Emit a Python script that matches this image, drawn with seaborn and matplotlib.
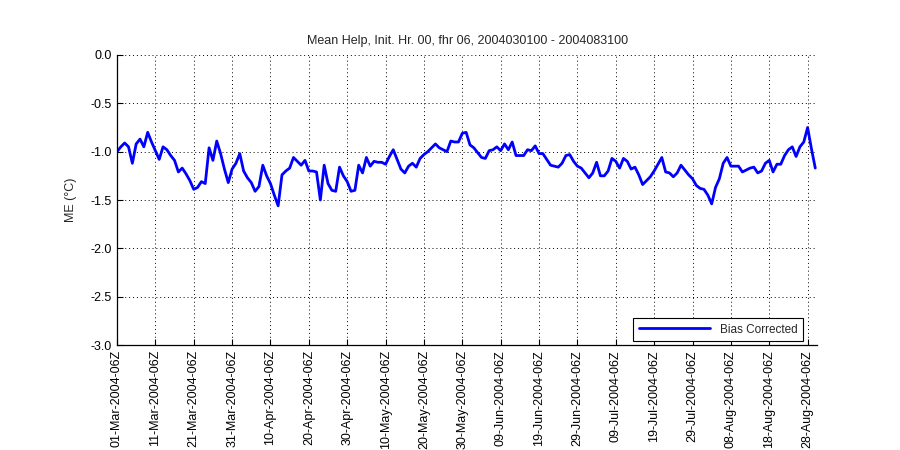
import matplotlib
matplotlib.use("Agg")
import matplotlib.pyplot as plt
import pandas as pd
import seaborn as sns

# Mean error per day, 01-Mar-2004 06Z onward
start = "2004-03-01 06:00"
me_values = [
    -1.00, -0.95, -0.91, -0.95, -1.12, -0.92, -0.87, -0.95, -0.80, -0.90,
    -0.99, -1.08, -0.95, -0.98, -1.04, -1.09, -1.21, -1.17, -1.23, -1.30,
    -1.39, -1.37, -1.31, -1.33, -0.96, -1.09, -0.89, -1.02, -1.18, -1.32,
    -1.18, -1.12, -1.02, -1.20, -1.27, -1.32, -1.41, -1.36, -1.14, -1.25,
    -1.33, -1.45, -1.56, -1.24, -1.20, -1.17, -1.06, -1.10, -1.14, -1.09,
    -1.20, -1.20, -1.21, -1.50, -1.14, -1.33, -1.40, -1.41, -1.16, -1.25,
    -1.31, -1.41, -1.40, -1.14, -1.22, -1.06, -1.15, -1.10, -1.11, -1.11,
    -1.13, -1.05, -0.98, -1.08, -1.18, -1.22, -1.15, -1.12, -1.16, -1.07,
    -1.03, -1.00, -0.96, -0.92, -0.96, -0.98, -1.00, -0.89, -0.90, -0.90,
    -0.81, -0.80, -0.93, -0.96, -1.01, -1.06, -1.07, -0.99, -0.98, -0.95,
    -0.99, -0.92, -0.98, -0.90, -1.04, -1.04, -1.04, -0.98, -0.99, -0.94,
    -1.02, -1.02, -1.08, -1.14, -1.15, -1.16, -1.12, -1.04, -1.03, -1.10,
    -1.15, -1.17, -1.22, -1.27, -1.22, -1.11, -1.25, -1.25, -1.20, -1.07,
    -1.10, -1.17, -1.07, -1.10, -1.18, -1.16, -1.24, -1.34, -1.30, -1.26,
    -1.20, -1.13, -1.06, -1.21, -1.22, -1.26, -1.22, -1.14, -1.19, -1.24,
    -1.28, -1.35, -1.38, -1.39, -1.45, -1.54, -1.37, -1.28, -1.12, -1.06,
    -1.15, -1.15, -1.15, -1.21, -1.19, -1.17, -1.16, -1.22, -1.20, -1.12,
    -1.09, -1.21, -1.13, -1.13, -1.04, -0.98, -0.95, -1.05, -0.95, -0.90,
    -0.75, -0.97, -1.17,
]
y_ticks = [0.0, -0.5, -1.0, -1.5, -2.0, -2.5, -3.0]

dates = pd.date_range(start, periods=len(me_values), freq="D")
tick_dates = dates[::10]
tick_labels = [d.strftime("%d-%b-%Y-%HZ") for d in tick_dates]

sns.set_style("ticks")
plt.rcParams["font.family"] = ["Liberation Sans", "DejaVu Sans"]

fig = plt.figure(figsize=(9, 4.5), dpi=100)
ax = fig.add_axes([0.13, 0.2333, 0.778, 0.6445])

sns.lineplot(x=dates, y=me_values, color="#0000ff", linewidth=2,
             label="Bias Corrected", ax=ax)

ax.set_ylim(-3.0, 0.0)
ax.set_xlim(dates[0], dates[-1] + pd.Timedelta(hours=12))
ax.set_yticks(y_ticks)
ax.set_yticklabels([f"{v:.1f}" for v in y_ticks], fontsize=9)
ax.set_xticks(tick_dates)
ax.set_xticklabels(tick_labels, rotation=90, fontsize=9)
ax.tick_params(direction="in", length=4, width=0.8, colors="black")
ax.grid(True, linestyle=(0, (1, 3)), color="black", linewidth=0.7)

for side in ["top", "right"]:
    ax.spines[side].set_visible(False)
for side in ["left", "bottom"]:
    ax.spines[side].set_color("black")
    ax.spines[side].set_linewidth(0.9)

ax.set_xlabel("")
ax.set_ylabel("ME (°C)", fontsize=9, labelpad=10)
ax.set_title("Mean Help, Init. Hr. 00, fhr 06, 2004030100 - 2004083100",
             fontsize=9, pad=8)

leg = ax.legend(loc="lower right", fontsize=8.5, fancybox=False, framealpha=1,
                borderpad=0.5, handlelength=6, borderaxespad=0.3,
                bbox_to_anchor=(0.985, 0.0))
leg.get_frame().set_edgecolor("black")
leg.get_frame().set_linewidth(0.8)

fig.savefig("out.png", dpi=100)
